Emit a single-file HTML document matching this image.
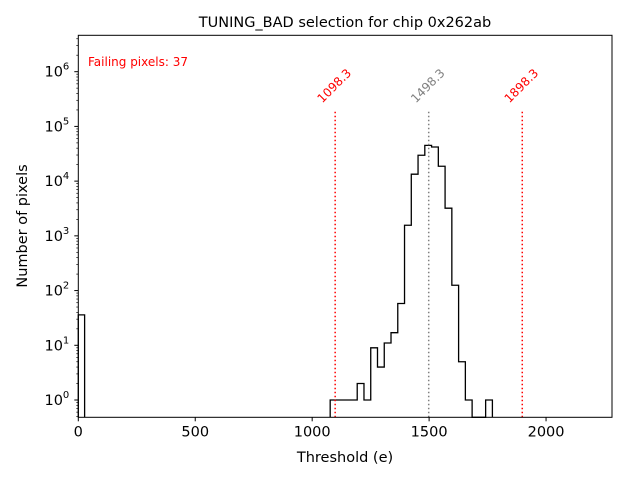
<!DOCTYPE html>
<html><head><meta charset="utf-8"><style>
body{margin:0;background:#fff;}
svg{font-family:"DejaVu Sans","Liberation Sans",sans-serif;}
</style></head><body>
<svg id="chart" width="640" height="480" xmlns="http://www.w3.org/2000/svg">
<rect width="640" height="480" fill="#fff"/>
<text x="345" y="27" font-size="14.5" text-anchor="middle">TUNING_BAD selection for chip 0x262ab</text>
<text x="345" y="462" font-size="14.5" text-anchor="middle">Threshold (e)</text>
<text x="27" y="226" font-size="14.5" text-anchor="middle" transform="rotate(-90 27 226)">Number of pixels</text>
<text x="88" y="66" font-size="12" fill="red">Failing pixels: 37</text>
<g id="plot"></g>
</svg>
<script>
const binStart = 1077;
const binWidth = 28.9;
const binCounts = [1,1,1,1,2,1,9,4,11,17,58,1560,13400,29700,45000,42000,18700,3200,125,5,1,0,0,1];
const lowBin = [0, 27, 36];
const cutLines = [1098.3, 1498.3, 1898.3];
const cutColors = ["red", "gray", "red"];
const xTicks = [0, 500, 1000, 1500, 2000];
const yTicks = [0, 1, 2, 3, 4, 5, 6];

const L = 78.3, R = 612, T = 35.3, B = 417.3;
const xMin = 0, xMax = 2282, yLogMin = -0.316, yLogMax = 6.665;
const X = v => L + (v - xMin) / (xMax - xMin) * (R - L);
const Y = v => B - (Math.log10(v) - yLogMin) / (yLogMax - yLogMin) * (B - T);
const NS = "http://www.w3.org/2000/svg";
const g = document.getElementById('plot');
function mk(tag, attrs, parent) {
  const e = document.createElementNS(NS, tag);
  for (const k in attrs) e.setAttribute(k, attrs[k]);
  (parent || g).appendChild(e);
  return e;
}
let lb = mk('path', {d:`M${X(lowBin[0])},${B} V${Y(lowBin[2])} H${X(lowBin[1])} V${B}`, fill:'none', stroke:'#000', 'stroke-width':1.3});


let d = '';
let prev = 0;
for (let i = 0; i < binCounts.length; i++) {
  const x0 = X(binStart + i * binWidth), x1 = X(binStart + (i + 1) * binWidth);
  const c = binCounts[i];
  const y = c > 0 ? Y(c) : B;
  const py = prev > 0 ? Y(prev) : B;
  if (i === 0) d += `M${x0},${B} `;
  d += `L${x0},${py} L${x0},${y} L${x1},${y} `;
  prev = c;
}
d += `L${X(binStart + binCounts.length * binWidth)},${B}`;
let hp = mk('path', {d:d, fill:'none', stroke:'#000', 'stroke-width':1.3, 'stroke-linejoin':'miter'});


const lineTop = Y(Math.pow(10, 5.27));
cutLines.forEach((v, i) => {
  const ln = mk('line', {x1:X(v), x2:X(v), y1:B, y2:lineTop, stroke:cutColors[i], 'stroke-width':1.5, 'stroke-dasharray':'1.5,2.5'});
  
  
  const ax = X(v) + 2, ay = lineTop - 23;
  const tx = mk('text', {x:ax, y:ay, 'font-size':12, fill:cutColors[i], 'text-anchor':'middle', transform:`rotate(-45 ${ax} ${ay})`});
  tx.textContent = v.toFixed(1);
  
  
});
let fr = mk('rect', {x:L, y:T, width:R-L, height:B-T, fill:'none', stroke:'#000', 'stroke-width':1});


xTicks.forEach(v => {
  mk('line', {x1:X(v), x2:X(v), y1:B, y2:B+4, stroke:'#000'});
  const t = mk('text', {x:X(v), y:B+19, 'font-size':14.5, 'text-anchor':'middle'});
  t.textContent = v;
  
  
});
yTicks.forEach(p => {
  const y = Y(Math.pow(10, p));
  mk('line', {x1:L-4, x2:L, y1:y, y2:y, stroke:'#000'});
  const t = mk('text', {x:L-9, y:y+5, 'font-size':14.5, 'text-anchor':'end'});
  t.innerHTML = '10<tspan dy="-7" font-size="10">' + p + '</tspan>';
  
  
});
for (let p = -1; p <= 6; p++) {
  for (let m = 2; m <= 9; m++) {
    const lv = p + Math.log10(m);
    if (lv < yLogMin || lv > yLogMax) continue;
    const y = Y(Math.pow(10, lv));
    mk('line', {x1:L-2, x2:L, y1:y, y2:y, stroke:'#000', 'stroke-width':0.7});
  }
}
</script>
</body></html>
